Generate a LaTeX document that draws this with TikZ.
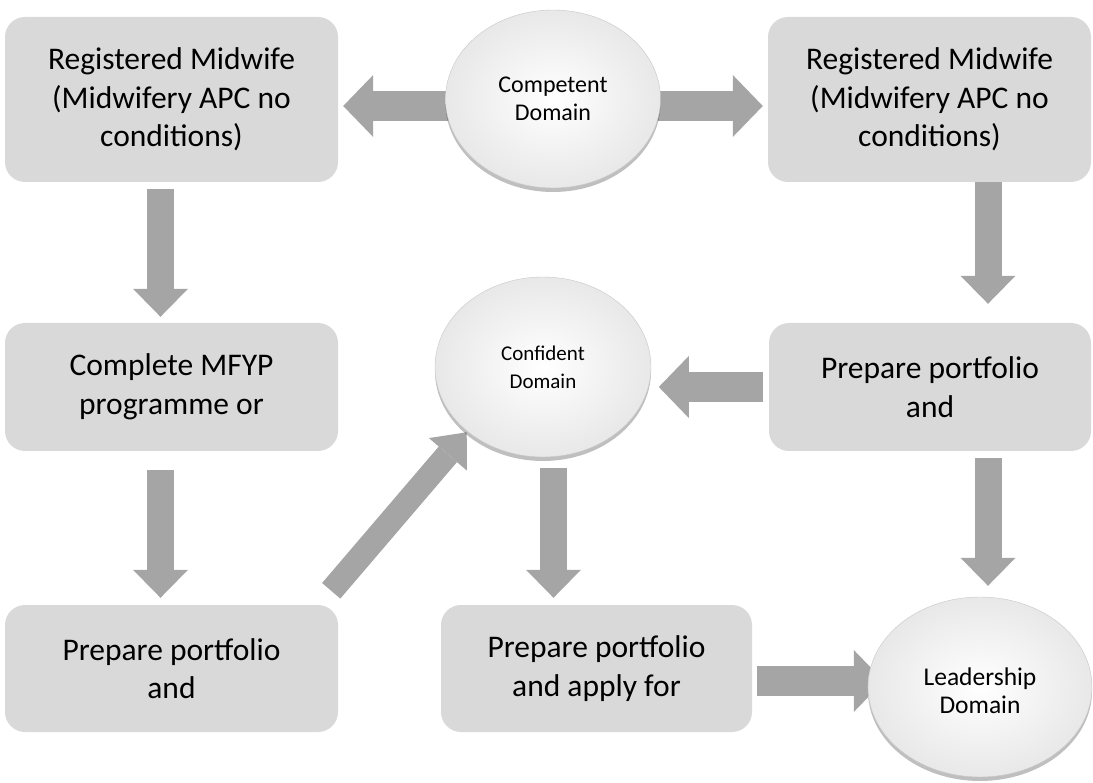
\documentclass[tikz,border=0pt]{standalone}
\usepackage{fontspec}
\setmainfont{Carlito}
\usetikzlibrary{shapes.geometric,arrows.meta,shadows,backgrounds}
\definecolor{boxgray}{HTML}{D9D9D9}
\definecolor{arrgray}{HTML}{A5A5A5}
\tikzset{
  stepbox/.style={rectangle, rounded corners=20pt, fill=boxgray, inner sep=0pt,
    align=center, font=\fontsize{31.5}{38.5}\selectfont},
  domnode/.style={ellipse, inner sep=0pt, draw=black!22, line width=0.4pt,
    shade, inner color=white, outer color=black!9,
    drop shadow={shadow xshift=0pt, shadow yshift=-4pt, opacity=0.25, fill=black},
    align=center},
  harrow/.style={draw=arrgray, line width=30pt,
    -{Triangle[width=62pt,length=30pt,line width=0pt]}},
  varrow/.style={draw=arrgray, line width=27pt,
    -{Triangle[width=55pt,length=28pt,line width=0pt]}},
  darrow/.style={draw=arrgray, line width=24pt,
    -{Triangle[width=50pt,length=29pt,line width=0pt]}},
}
\begin{document}
\begin{tikzpicture}[x=1pt,y=-1pt]
\useasboundingbox (0,0) rectangle (1093,783);
% boxes
\node[stepbox, minimum width=333pt, minimum height=165pt] (A) at (171.5,99.5)
  {Registered Midwife\\(Midwifery APC no\\conditions)};
\node[stepbox, minimum width=323pt, minimum height=165pt] (B) at (929.5,99.5)
  {Registered Midwife\\(Midwifery APC no\\conditions)};
\node[stepbox, minimum width=333pt, minimum height=128pt] (C) at (171.5,387)
  {Complete MFYP\\programme or};
\node[stepbox, minimum width=322pt, minimum height=128pt] (D) at (930,387)
  {Prepare portfolio\\and};
\node[stepbox, minimum width=333pt, minimum height=127pt] (E) at (171.5,668.5)
  {Prepare portfolio\\and};
\node[stepbox, minimum width=311pt, minimum height=127pt] (F) at (596.5,668.5)
  {Prepare portfolio\\and apply for};
% domains
\node[domnode, minimum width=215pt, minimum height=178pt,
  font=\fontsize{24}{28}\selectfont] (comp) at (553,99) {Competent\\Domain};
\node[domnode, minimum width=216pt, minimum height=180pt,
  font=\fontsize{21}{28}\selectfont] (conf) at (543,367) {Confident\\Domain};
\node[domnode, minimum width=224pt, minimum height=180pt,
  font=\fontsize{25.5}{28}\selectfont] (lead) at (980,687)
  {\raisebox{-7pt}[\height][\depth]{\begin{tabular}{@{}c@{}}Leadership\\Domain\end{tabular}}};
% arrows
\begin{scope}[on background layer]
\draw[harrow] ([yshift=-7pt]comp.center) -- ([xshift=5pt,yshift=-6.5pt]A.east);
\draw[harrow] ([yshift=-7pt]comp.center) -- ([xshift=-5pt,yshift=-6.5pt]B.west);
\draw[varrow] ([xshift=-11pt,yshift=-7pt]A.south) -- ([xshift=-11pt,yshift=6pt]C.north);
\draw[varrow] ([xshift=-11pt,yshift=-19pt]C.south) -- ([xshift=-11pt,yshift=7pt]E.north);
\draw[varrow] ([xshift=58.5pt]B.south) -- ([xshift=58pt,yshift=19pt]D.north);
\draw[varrow] ([xshift=58pt,yshift=-7pt]D.south) -- ([xshift=8pt,yshift=11pt]lead.north);
\draw[harrow] ([xshift=-6pt]D.west) -- ([xshift=-110pt]D.west);
\draw[varrow] ([xshift=10.5pt,yshift=-11pt]conf.south) -- ([xshift=-43pt,yshift=7pt]F.north);
\draw[harrow] ([xshift=5pt,yshift=-12.5pt]F.east) -- ([xshift=16pt,yshift=6pt]lead.west);
\draw[darrow] ([xshift=-7pt,yshift=14pt]E.north east) -- ([xshift=-7pt,yshift=4pt]conf.225);
\end{scope}
\end{tikzpicture}
\end{document}
